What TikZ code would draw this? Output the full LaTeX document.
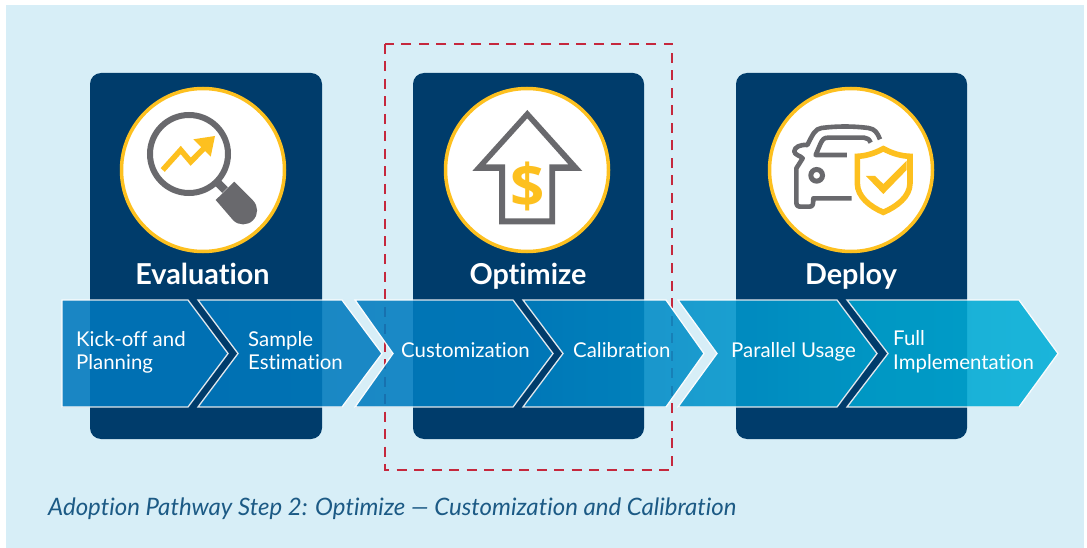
\documentclass[tikz,border=0pt]{standalone}
\usepackage{fontspec}
\setmainfont{Lato}[Ligatures=NoCommon]
\newfontfamily\dollarfont{Open Sans}
\definecolor{bgc}{HTML}{D7EEF7}
\definecolor{navy}{HTML}{003C6B}
\definecolor{gold}{HTML}{FDC01F}
\definecolor{iconc}{HTML}{69696D}
\definecolor{redc}{HTML}{C5283D}
\definecolor{capc}{HTML}{1C5A85}
\definecolor{cA}{HTML}{0078BD}
\definecolor{cB}{HTML}{007BBF}
\definecolor{cC}{HTML}{0080C2}
\definecolor{cD}{HTML}{0090C9}
\definecolor{cE}{HTML}{00A3D0}
\definecolor{cF}{HTML}{00AED6}
\tikzset{
  panel/.style={fill=navy,rounded corners=11pt},
  medal/.style={circle,draw=gold,fill=white,line width=3.5pt,minimum size=163pt,inner sep=0pt},
  chev/.style={draw=white,line width=1.3pt,miter limit=10},
  chevtext/.style={text=white,font=\fontsize{20.4pt}{23pt}\selectfont,align=left,inner sep=0pt},
  headtext/.style={text=white,font=\fontsize{28.8pt}{30pt}\selectfont\bfseries,inner sep=0pt},
  iconline/.style={draw=iconc,line width=4.6pt,line join=round},
}
\begin{document}
\begin{tikzpicture}[x=1pt,y=-1pt]
\useasboundingbox (0,0) rectangle (1087,548);
\fill[bgc] (6,5) rectangle (1084,548);
% panels
\fill[panel] (90,73) rectangle (322,439);
\fill[panel] (413,73) rectangle (644,439);
\fill[panel] (736,73) rectangle (967,439);
% dashed frame
\draw[redc,line width=1.8pt,dash pattern=on 10pt off 7.5pt] (385,44) rectangle (672,470);
% medals
\node[medal] (m1) at (203,170) {};
\node[medal] (m2) at (527,170) {};
\node[medal] (m3) at (851,170) {};
% magnifier
\draw[iconc,line width=6pt] (189,154) circle (39);
\draw[iconc,line width=8pt] (216,181) -- (225,190);
\fill[iconc] (215.7,200) -- (234.3,181.7) -- (253,200.5) arc (-45:135:14) -- cycle;
\draw[gold,line width=5.5pt,line join=miter] (162.7,170) -- (180.7,150) -- (190.7,161.7) -- (205,147.3);
\fill[gold] (215,136) -- (193.3,139.3) -- (210.7,156.7) -- cycle;
% up arrow
\fill[iconc,even odd rule] (527.3,110) -- (582.3,171) -- (555,171) -- (555,224.3) -- (499,224.3) -- (499,171) -- (472.3,171) -- cycle
  (527.3,118.3) -- (568.3,164.3) -- (549.3,164.3) -- (549.3,218.3) -- (505,218.3) -- (505,164.3) -- (485.7,164.3) -- cycle;
\node[text=gold,font=\fontsize{60pt}{60pt}\selectfont\dollarfont\bfseries,inner sep=0pt] (dollar) at (527.3,186.7) {\$};
% car
\begin{scope}[shift={(750,90)},x=.3333pt,y=-.3333pt]
\draw[iconline,line cap=butt] (390,148) .. controls (382,128) and (375,117) .. (355,114) .. controls (310,108) and (260,108) .. (215,114)
  .. controls (195,117) and (190,130) .. (172,165) .. controls (150,163) and (133,172) .. (133,184) .. controls (133,195) and (150,196) .. (158,205)
  -- (139,235) -- (139,335) .. controls (139,348) and (142,350) .. (155,350) -- (178,350) .. controls (188,350) and (190,345) .. (190,325) -- (305,325);
\draw[iconline,line cap=butt] (362,158) .. controls (358,148) and (352,144) .. (342,143) -- (235,143) .. controls (222,143) and (218,148) .. (212,160) -- (197,195) -- (291,195);
\draw[iconc,line width=5pt] (200,256) circle (17.5);
\draw[gold,line width=5.6pt,miter limit=10] (400,176) .. controls (430,192) and (455,198) .. (480,199) -- (480,280) .. controls (480,320) and (440,350) .. (400,367)
  .. controls (360,350) and (322,320) .. (322,280) -- (322,199) .. controls (345,198) and (370,192) .. (400,176) -- cycle;
\fill[gold] (348,258) -- (375,258) -- (400,282) -- (470,212) -- (470,240) -- (400,312) -- cycle;
\end{scope}
% headings
\node[headtext,anchor=base] (h1) at (202.5,284) {Evaluation};
\node[headtext,anchor=base] (h2) at (528,284) {Optimize};
\node[headtext,anchor=base] (h3) at (851,284) {Deploy};
% chevrons
\begin{scope}[transparency group,opacity=.88]
\filldraw[chev,left color=cA,right color=cA] (62,300) -- (188,300) -- (228,353.5) -- (188,407) -- (62,407) -- cycle;
\filldraw[chev,left color=cA,right color=cB] (198,300) -- (342,300) -- (382,353.5) -- (342,407) -- (198,407) -- (238,353.5) -- cycle;
\filldraw[chev,left color=cB,right color=cC] (355,300) -- (513,300) -- (553,353.5) -- (513,407) -- (355,407) -- (393,353.5) -- cycle;
\filldraw[chev,left color=cC,right color=cD] (523,300) -- (666,300) -- (704,353.5) -- (666,407) -- (523,407) -- (563,353.5) -- cycle;
\filldraw[chev,left color=cD,right color=cE] (678,300) -- (837,300) -- (877,353.5) -- (837,407) -- (678,407) -- (717,353.5) -- cycle;
\filldraw[chev,left color=cE,right color=cF] (847,300) -- (1019,300) -- (1058,353.5) -- (1019,407) -- (847,407) -- (888,353.5) -- cycle;
\end{scope}
% chevron labels
\node[chevtext,anchor=base west] (t1) at (76,369) {Kick-off and\\Planning};
\node[chevtext,anchor=base west] (t2) at (248,369) {Sample\\Estimation};
\node[chevtext,anchor=base west] (t3) at (401,357) {Customization};
\node[chevtext,anchor=base west] (t4) at (573,357) {Calibration};
\node[chevtext,anchor=base west] (t5) at (731,357) {Parallel Usage};
\node[chevtext,anchor=base west] (t6) at (893,369) {Full\\[1pt]Implementation};
% caption
\node[text=capc,font=\fontsize{24pt}{26pt}\selectfont\itshape,anchor=base west,inner sep=0pt] (cap) at (48,515) {Adoption Pathway Step 2: Optimize — Customization and Calibration};
\end{tikzpicture}
\end{document}
